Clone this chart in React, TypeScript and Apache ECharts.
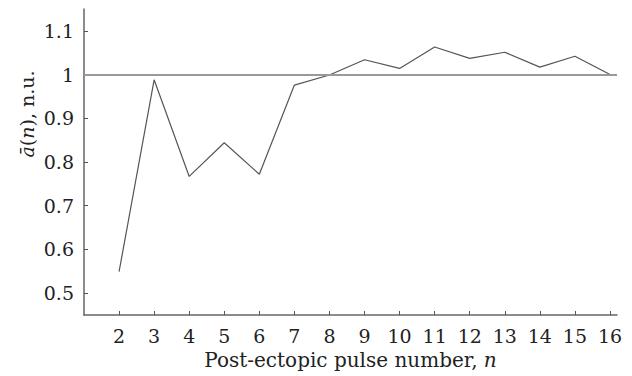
import React, { useEffect, useRef } from "react";
import * as echarts from "echarts";

const pulseNumbers = [2, 3, 4, 5, 6, 7, 8, 9, 10, 11, 12, 13, 14, 15, 16];
const meanValues = [0.549, 0.988, 0.767, 0.844, 0.772, 0.976, 0.999, 1.034, 1.014, 1.063, 1.037, 1.051, 1.017, 1.042, 1.0];
const xTicks = [2, 3, 4, 5, 6, 7, 8, 9, 10, 11, 12, 13, 14, 15, 16];
const yTicks = [0.5, 0.6, 0.7, 0.8, 0.9, 1, 1.1];
const referenceLevel = 1;

const FONT = "'DejaVu Serif', serif";

export default function App() {
  const ref = useRef<HTMLDivElement>(null);
  useEffect(() => {
    if (!ref.current) return;
    const chart = echarts.init(ref.current, null, { renderer: "svg" });
    chart.setOption({
      animation: false,
      backgroundColor: "#ffffff",
      grid: { left: 84, right: 15, top: 9, bottom: 61, containLabel: false },
      xAxis: {
        type: "value",
        min: 1,
        max: 16.2,
        name: "Post-ectopic pulse number, {i|n}",
        nameLocation: "middle",
        nameGap: 26,
        nameTextStyle: {
          fontFamily: FONT,
          fontSize: 20,
          color: "#222",
          rich: { i: { fontFamily: FONT, fontStyle: "italic", fontSize: 20, color: "#222" } },
        },
        axisLine: { show: true, lineStyle: { color: "#666", width: 1.5 } },
        axisTick: { show: true, inside: true, length: 4, customValues: xTicks, lineStyle: { color: "#555" } },
        axisLabel: { customValues: xTicks, fontFamily: FONT, fontSize: 19, color: "#222", margin: 11 },
        splitLine: { show: false },
      },
      yAxis: {
        type: "value",
        min: 0.45,
        max: 1.15,
        axisLine: { show: true, lineStyle: { color: "#666", width: 1.5 } },
        axisTick: { show: true, inside: true, length: 4, customValues: yTicks, lineStyle: { color: "#555" } },
        axisLabel: { customValues: yTicks, fontFamily: FONT, fontSize: 19, color: "#222", margin: 10 },
        splitLine: { show: false },
      },
      graphic: [
        {
          type: "text",
          x: 27,
          y: 114,
          rotation: Math.PI / 2,
          style: {
            text: "{i|ā}({i|n}), n.u.",
            fontFamily: FONT,
            fontSize: 19,
            fill: "#222",
            align: "center",
            verticalAlign: "middle",
            rich: { i: { fontFamily: FONT, fontStyle: "italic", fontSize: 19, fill: "#222" } },
          },
        },
      ],
      series: [
        {
          type: "line",
          data: pulseNumbers.map((n, i) => [n, meanValues[i]]),
          symbol: "none",
          lineStyle: { color: "#555", width: 1.2 },
          markLine: {
            silent: true,
            symbol: "none",
            label: { show: false },
            lineStyle: { color: "#999", width: 2, type: "solid" },
            data: [{ yAxis: referenceLevel }],
          },
          z: 3,
        },
      ],
    });
    return () => chart.dispose();
  }, []);
  return <div ref={ref} style={{ position: "fixed", left: 0, top: 0, width: 632, height: 376 }} />;
}
